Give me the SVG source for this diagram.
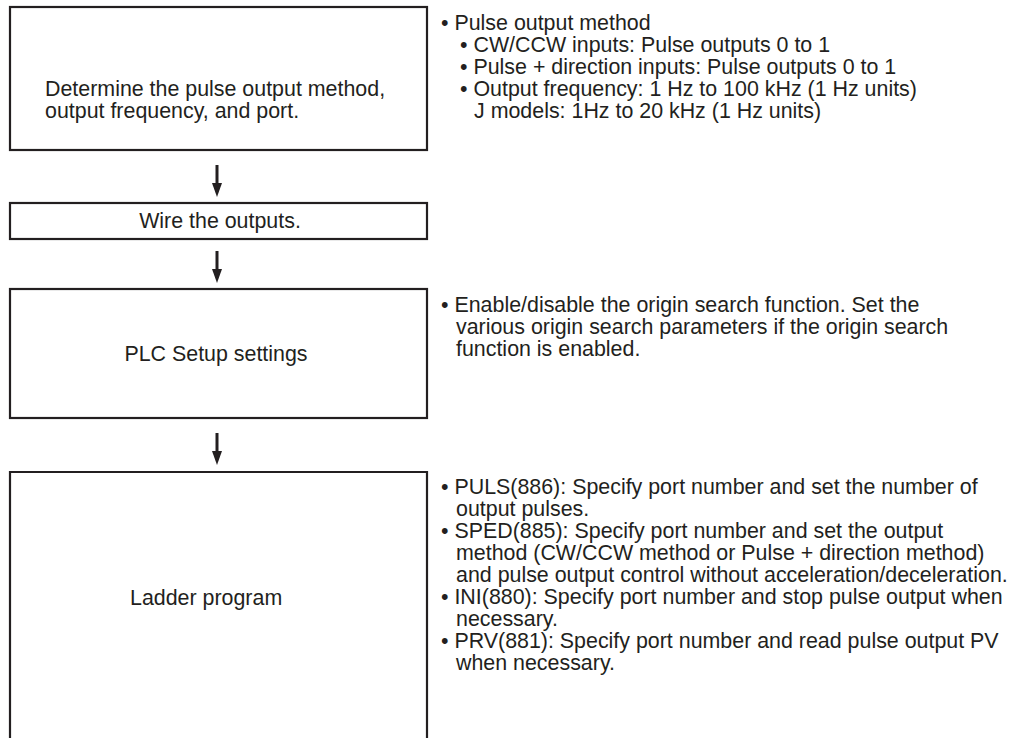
<svg xmlns="http://www.w3.org/2000/svg" width="1014" height="738" viewBox="0 0 1014 738">
<defs>
<style>
.box{fill:none;stroke:#231f20;stroke-width:2.2}
.t{font-family:"Liberation Sans",Arial,sans-serif;font-size:21.4px;fill:#231f20}
.c{text-anchor:middle}
.shaft{stroke:#231f20;stroke-width:3}
.head{fill:#231f20}
</style>
</defs>
<rect width="1014" height="738" fill="#fff"/>
<g id="step1">
<rect class="box" x="10" y="7" width="417" height="143"/>
<text class="t" x="45" y="96">Determine the pulse output method,</text>
<text class="t" x="45" y="118">output frequency, and port.</text>
</g>
<g id="note1">
<text class="t" x="441" y="30">• Pulse output method</text>
<text class="t" x="460" y="52">• CW/CCW inputs: Pulse outputs 0 to 1</text>
<text class="t" x="460" y="74">• Pulse + direction inputs: Pulse outputs 0 to 1</text>
<text class="t" x="460" y="96">• Output frequency: 1 Hz to 100 kHz (1 Hz units)</text>
<text class="t" x="474" y="118">J models: 1Hz to 20 kHz (1 Hz units)</text>
</g>
<g id="step2">
<rect class="box" x="10" y="203" width="417" height="36"/>
<text class="t c" x="220" y="228">Wire the outputs.</text>
</g>
<g id="step3">
<rect class="box" x="10" y="289" width="417" height="129"/>
<text class="t c" x="216" y="361">PLC Setup settings</text>
</g>
<g id="note3">
<text class="t" x="441" y="312">• Enable/disable the origin search function. Set the</text>
<text class="t" x="456" y="334">various origin search parameters if the origin search</text>
<text class="t" x="456" y="356">function is enabled.</text>
</g>
<g id="step4">
<path class="box" d="M10,738 V472 H427 V738"/>
<text class="t" x="130" y="605">Ladder program</text>
</g>
<g id="note4">
<text class="t" x="441" y="494">• PULS(886): Specify port number and set the number of</text>
<text class="t" x="456" y="516">output pulses.</text>
<text class="t" x="441" y="538">• SPED(885): Specify port number and set the output</text>
<text class="t" x="456" y="560">method (CW/CCW method or Pulse + direction method)</text>
<text class="t" x="456" y="582">and pulse output control without acceleration/deceleration.</text>
<text class="t" x="441" y="604">• INI(880): Specify port number and stop pulse output when</text>
<text class="t" x="456" y="626">necessary.</text>
<text class="t" x="441" y="648">• PRV(881): Specify port number and read pulse output PV</text>
<text class="t" x="456" y="670">when necessary.</text>
</g>
<g id="connectors">
<line class="shaft" x1="217" y1="165" x2="217" y2="184"/>
<polygon class="head" points="212,183 222,183 217,197"/>
<line class="shaft" x1="217" y1="251" x2="217" y2="270"/>
<polygon class="head" points="212,269 222,269 217,283"/>
<line class="shaft" x1="217" y1="433" x2="217" y2="452"/>
<polygon class="head" points="212,451 222,451 217,465"/>
</g>
</svg>
